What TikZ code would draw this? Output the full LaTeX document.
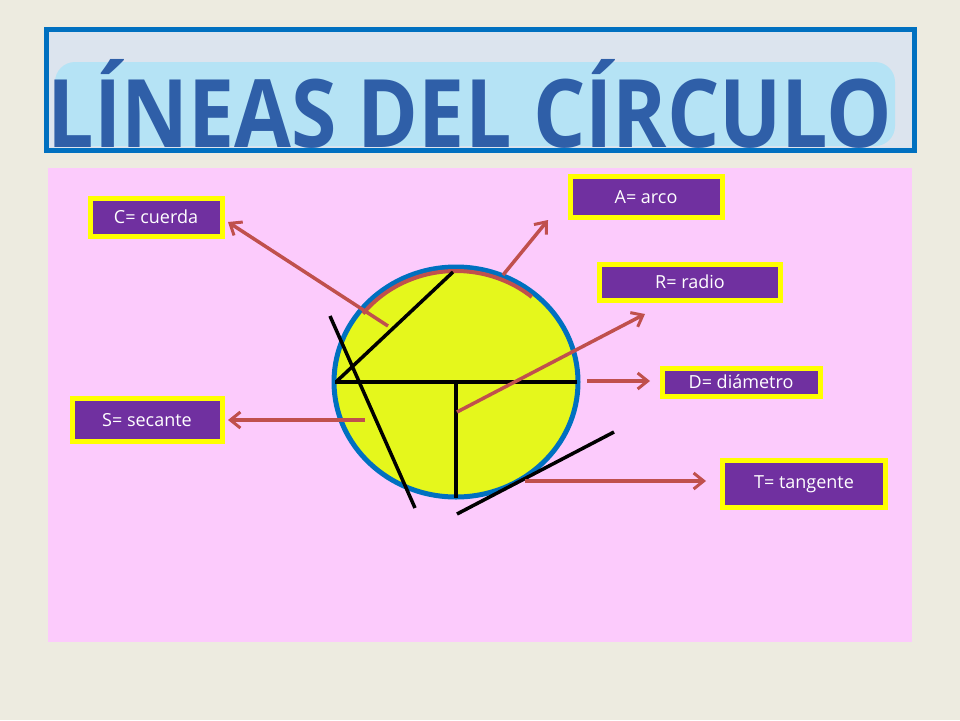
\documentclass[tikz,border=0pt]{standalone}
\usepackage{fontspec}
\setmainfont{Open Sans}
\usetikzlibrary{arrows.meta}
\definecolor{bg}{HTML}{EDEBE0}
\definecolor{pinkp}{HTML}{FCCBFC}
\definecolor{purp}{HTML}{7030A0}
\definecolor{yel}{HTML}{FFFF00}
\definecolor{redl}{HTML}{C0504D}
\definecolor{blueb}{HTML}{0070C0}
\definecolor{titlef}{HTML}{DCE4EE}
\definecolor{titlet}{HTML}{2F5FA8}
\definecolor{glow}{HTML}{B5E3F5}
\definecolor{circf}{HTML}{E5F71C}
\tikzset{
  lbl/.style={fill=purp,draw=yel,line width=5pt,text=white,font=\fontsize{18}{20}\selectfont,inner sep=0pt,anchor=center},
  arr/.style={draw=redl,line width=3.5pt,-{Straight Barb[length=10pt,width=16pt,line width=3pt]}},
  blk/.style={draw=black,line width=3.5pt}
}
\begin{document}
\begin{tikzpicture}[x=1pt,y=-1pt]
\useasboundingbox (0,0) rectangle (960,720);
\fill[bg] (0,0) rectangle (960,720);
\draw[blueb,line width=5pt,fill=titlef] (46,29) rectangle (914,150);
\fill[glow,rounded corners=20pt] (55,62) rectangle (895,146);
\node (title) at (470,104) {\resizebox{845pt}{88pt}{\bfseries\color{titlet}LÍNEAS DEL CÍRCULO}};
\fill[pinkp] (48,168) rectangle (912,642);
% labels
\node[lbl,minimum width=132pt,minimum height=38pt] (C) at (156,217) {C= cuerda};
\node[lbl,minimum width=152pt,minimum height=41pt] (A) at (646,197) {A= arco};
\node[lbl,minimum width=181pt,minimum height=36pt] (R) at (690,282) {R= radio};
\node[lbl,minimum width=158pt,minimum height=28pt] (D) at (741,382) {D= diámetro};
\node[lbl,minimum width=150pt,minimum height=43pt] (S) at (147,420) {S= secante};
\node[lbl,minimum width=163pt,minimum height=47pt] (T) at (804,484) {T= tangente};
% circle
\draw[blueb,line width=5pt,fill=circf] (456,382) ellipse [x radius=122pt,y radius=115pt];
\draw[redl,line width=4pt] (456,382) ++(142:118pt and 111pt) arc[start angle=142,end angle=50,x radius=118pt,y radius=111pt];
% black lines
\coordinate (dl) at (335,382); \coordinate (dr) at (577,382);
\coordinate (ctr) at (456,382); \coordinate (rb) at (456,498);
\draw[blk] (337,381) -- (453,272);
\draw[blk] (dl) -- (dr);
\draw[blk] (ctr) -- (rb);
\draw[blk] (330,316) -- (415,508);
\draw[blk] (457,514) -- (614,432);
% arrows
\coordinate (c0) at (388,326); \coordinate (a0) at (503,275);
\coordinate (r0) at (457,412); \coordinate (d0) at (587,381);
\coordinate (s0) at (365,420); \coordinate (t0) at (525,481);
\draw[arr] (c0) -- (228,222);
\draw[arr] (a0) -- (548,220);
\draw[arr] (r0) -- (645,314);
\draw[arr] (d0) -- (650,381);
\draw[arr] (s0) -- (228,420);
\draw[arr] (t0) -- (706,481);
\end{tikzpicture}
\end{document}
